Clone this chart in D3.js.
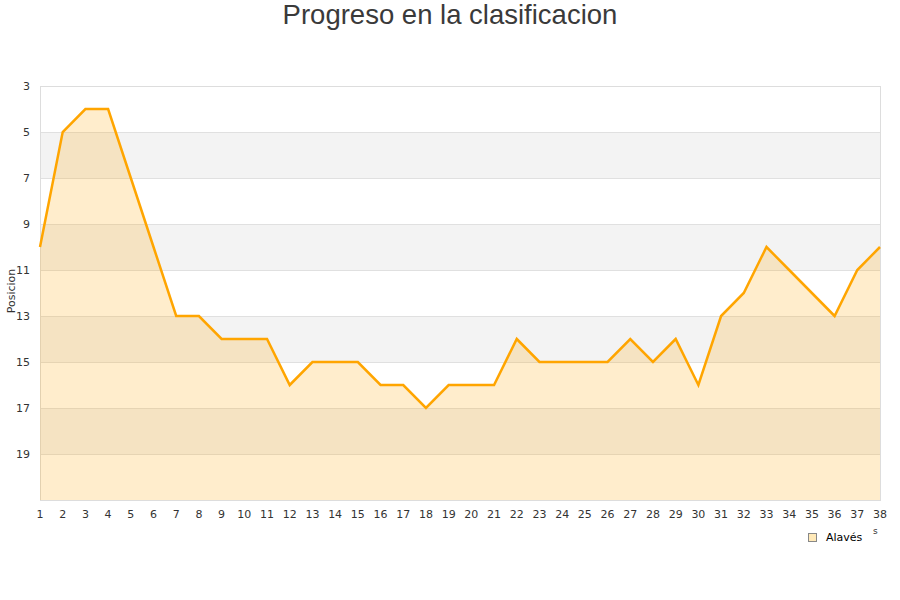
<!DOCTYPE html>
<html><head><meta charset="utf-8">
<script src="https://cdn.jsdelivr.net/npm/d3@7"></script>
<style>body{margin:0;background:#fff}</style>
</head><body>
<svg id="c" width="900" height="600"></svg>
<script>
const rounds = d3.range(1, 39);
const positions = [10,5,4,4,7,10,13,13,14,14,14,16,15,15,15,16,16,17,16,16,16,14,15,15,15,15,14,15,14,16,13,12,10,11,12,13,11,10];
const yTicks = [3,5,7,9,11,13,15,17,19];
const seriesName = "Alavés";
const title = "Progreso en la clasificacion";
const yLabel = "Posicion";

const svg = d3.select("#c");
const m = {l:40, r:20, t:86, b:100};
const W = 900, H = 600;
const x = d3.scaleLinear().domain([1,38]).range([m.l, W-m.r]);
const y = d3.scaleLinear().domain([3,21]).range([m.t, H-m.b]);

const bands = [5,9,13,17];
svg.selectAll("rect.band").data(bands).enter().append("rect")
  .attr("x", x(1)).attr("width", x(38)-x(1))
  .attr("y", d=>y(d)).attr("height", d=>y(d+2)-y(d))
  .attr("fill", "#f3f3f3");
svg.selectAll("line.grid").data([5,7,9,11,13,15,17,19]).enter().append("line")
  .attr("x1", x(1)).attr("x2", x(38)).attr("y1", d=>y(d)).attr("y2", d=>y(d))
  .attr("stroke", "#e0e0e0").attr("stroke-width", 1).attr("shape-rendering","crispEdges");
svg.append("rect").attr("x", x(1)).attr("y", y(3)).attr("width", x(38)-x(1)).attr("height", y(21)-y(3))
  .attr("fill","none").attr("stroke","#dddddd").attr("shape-rendering","crispEdges");

const data = rounds.map((r,i)=>({r, p:positions[i]}));
const area = d3.area().x(d=>x(d.r)).y0(y(21)).y1(d=>y(d.p));
const line = d3.line().x(d=>x(d.r)).y(d=>y(d.p));
svg.append("path").datum(data).attr("d", area).attr("fill","#ffa500").attr("fill-opacity",0.2);
svg.append("path").datum(data).attr("d", line).attr("fill","none").attr("stroke","#ffa500").attr("stroke-width",2.5).attr("stroke-linejoin","miter");

svg.selectAll("text.yt").data(yTicks).enter().append("text")
  .attr("x", 30).attr("y", d=>y(d)+4).attr("text-anchor","end")
  .attr("font-family","DejaVu Sans").attr("font-size",11).attr("fill","#333")
  .text(d=>d);
svg.selectAll("text.xt").data(rounds).enter().append("text")
  .attr("x", d=>x(d)).attr("y", 518).attr("text-anchor","middle")
  .attr("font-family","DejaVu Sans").attr("font-size",11).attr("fill","#333")
  .text(d=>d);
svg.append("text").attr("transform","translate(15,291) rotate(-90)").attr("text-anchor","middle")
  .attr("font-family","DejaVu Sans").attr("font-size",11).attr("fill","#333").text(yLabel);
svg.append("text").attr("x",450).attr("y",24).attr("text-anchor","middle")
  .attr("font-family","Liberation Sans, Arial, sans-serif").attr("font-size",27.5).attr("fill","#3a3a3a").text(title);
svg.append("rect").attr("x",808.5).attr("y",533.5).attr("width",8).attr("height",8)
  .attr("fill","#ffe9b8").attr("stroke","#888").attr("stroke-width",1);
svg.append("text").attr("x",826).attr("y",541).attr("font-family","DejaVu Sans").attr("font-size",11).attr("fill","#000").text(seriesName);
svg.append("text").attr("x",873).attr("y",534).attr("font-family","DejaVu Sans").attr("font-size",9).attr("fill","#333").text("s");
</script>
</body></html>
